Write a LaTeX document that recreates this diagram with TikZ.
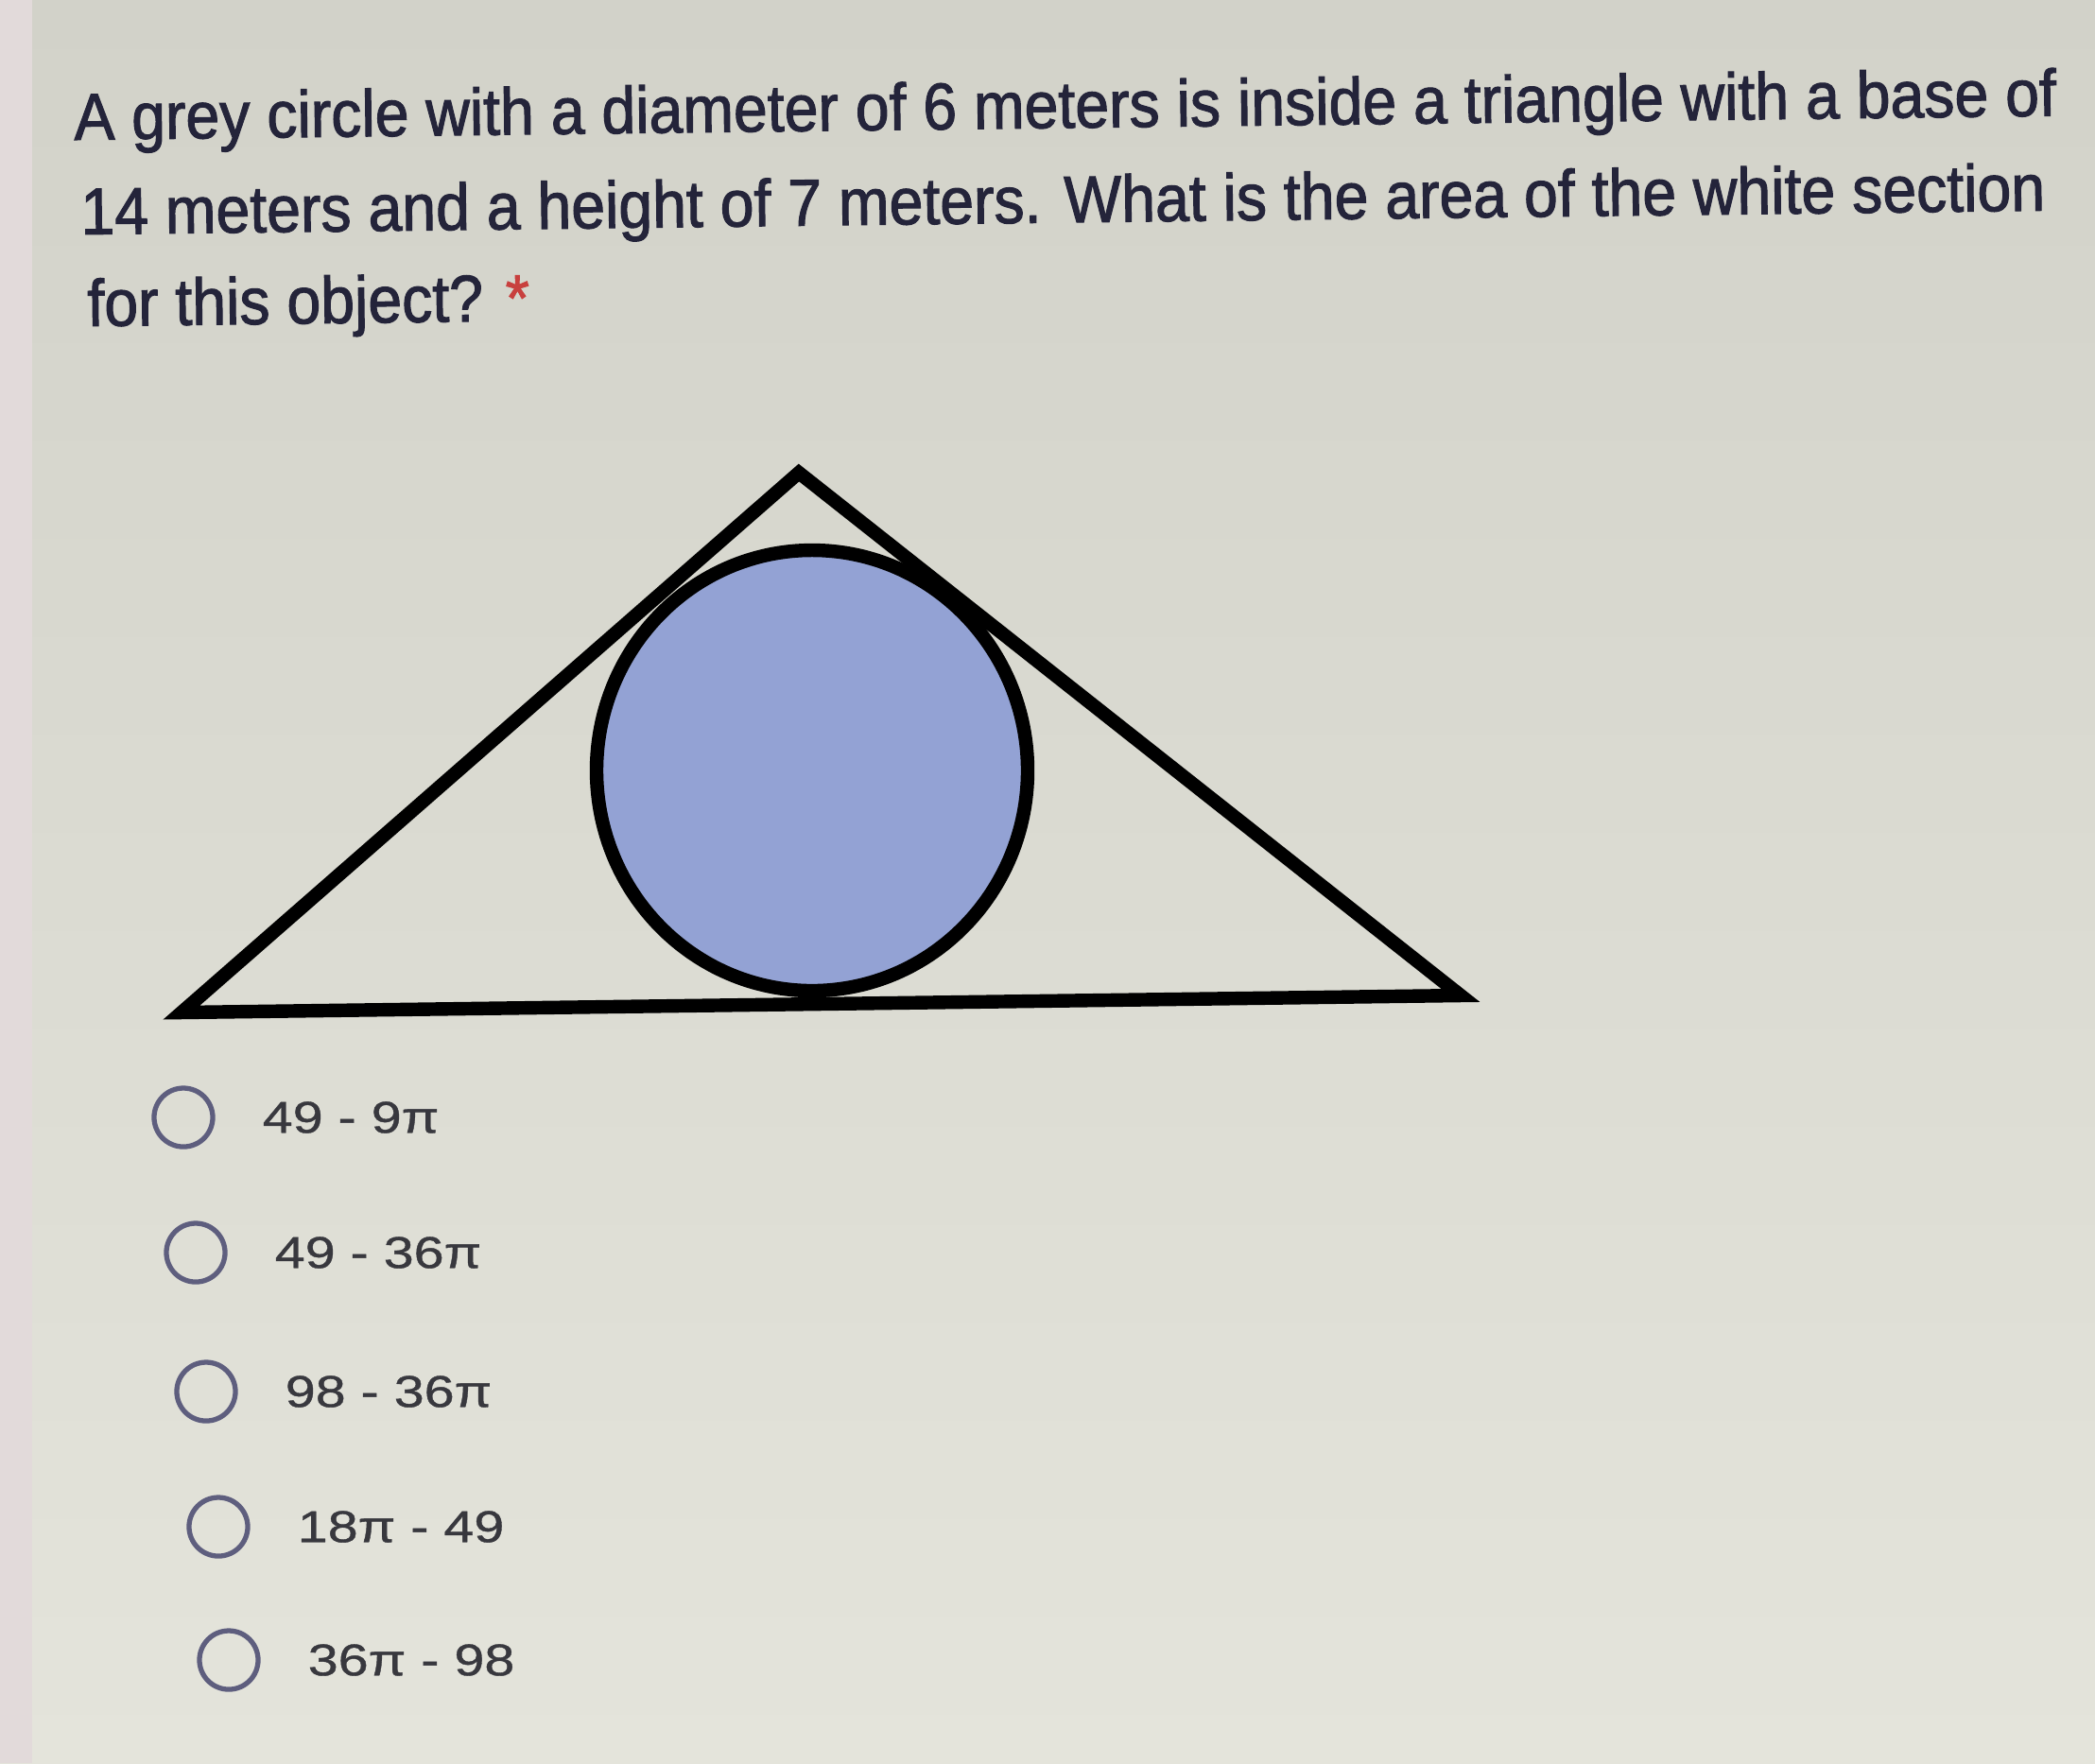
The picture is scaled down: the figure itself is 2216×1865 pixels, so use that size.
\documentclass[tikz,border=0pt]{standalone}
\usepackage{fontspec}
\usepackage{tikz}
\usetikzlibrary{positioning}
\usepackage{xcolor}

\newfontfamily\qfont[FakeStretch=0.92,FakeBold=1.5]{Liberation Sans}
\newfontfamily\afont[FakeStretch=1.22,FakeBold=0.8]{Liberation Sans}
\definecolor{bgtop}{HTML}{D2D2C9}
\definecolor{bgbot}{HTML}{E4E4DB}
\definecolor{strip}{HTML}{E2DADA}
\definecolor{ink}{HTML}{24243A}
\definecolor{ansink}{HTML}{38383E}
\definecolor{discblue}{HTML}{93A2D4}
\definecolor{radioring}{HTML}{5E5E7E}
\definecolor{star}{HTML}{C8403E}

\tikzset{
	qline/.style={anchor=base west,inner sep=0pt,rotate=0.7,text=ink,font=\qfont\fontsize{19.9pt}{24pt}\selectfont},
	edge/.style={draw=black,line width=4.1pt,line join=miter},
	radio/.style={circle,draw=radioring,line width=1.5pt,minimum size=0.62cm,inner sep=0pt,outer sep=0pt},
	answer/.style={inner sep=0pt,text=ansink,font=\afont\fontsize{13.4pt}{16pt}\selectfont}
}

\begin{document}
\begin{tikzpicture}[x=0.01cm,y=-0.01cm]
				% screen background
				\shade [top color=bgtop,bottom color=bgbot] (0,0) rectangle (2216,1865);
				\fill [strip] (0,0) rectangle (34,1865);
				\useasboundingbox (0,0) rectangle (2216,1865);
				% question
				\node [qline] (q1) at (78,148) {A grey circle with a diameter of 6 meters is inside a triangle with a base of};
				\node [qline] (q2) at (85,248) {14 meters and a height of 7 meters. What is the area of the white section};
				\node [qline] (q3) at (92,345) {for this object? \textcolor{star}{*}};
				% figure
				\coordinate (apex) at (845,500);
				\coordinate (lft) at (192,1071);
				\coordinate (rgt) at (1545,1053);
				\coordinate (ctr) at (859,815);
				\fill [discblue] (ctr) ellipse [x radius=228,y radius=233];
				\draw [edge] (lft) -- (apex) -- (rgt) -- cycle;
				\draw [black,line width=4.1pt] (ctr) ellipse [x radius=228,y radius=233];
				% choices
				\node [radio] (r1) at (194,1182) {};
				\node [radio] (r2) at (207,1325) {};
				\node [radio] (r3) at (218,1472) {};
				\node [radio] (r4) at (231,1615) {};
				\node [radio] (r5) at (242,1756) {};
				\node [answer,right=0.52cm of r1] (a1) {49 - 9π};
				\node [answer,right=0.52cm of r2] (a2) {49 - 36π};
				\node [answer,right=0.52cm of r3] (a3) {98 - 36π};
				\node [answer,right=0.52cm of r4] (a4) {18π - 49};
				\node [answer,right=0.52cm of r5] (a5) {36π - 98};
\end{tikzpicture}
\end{document}
